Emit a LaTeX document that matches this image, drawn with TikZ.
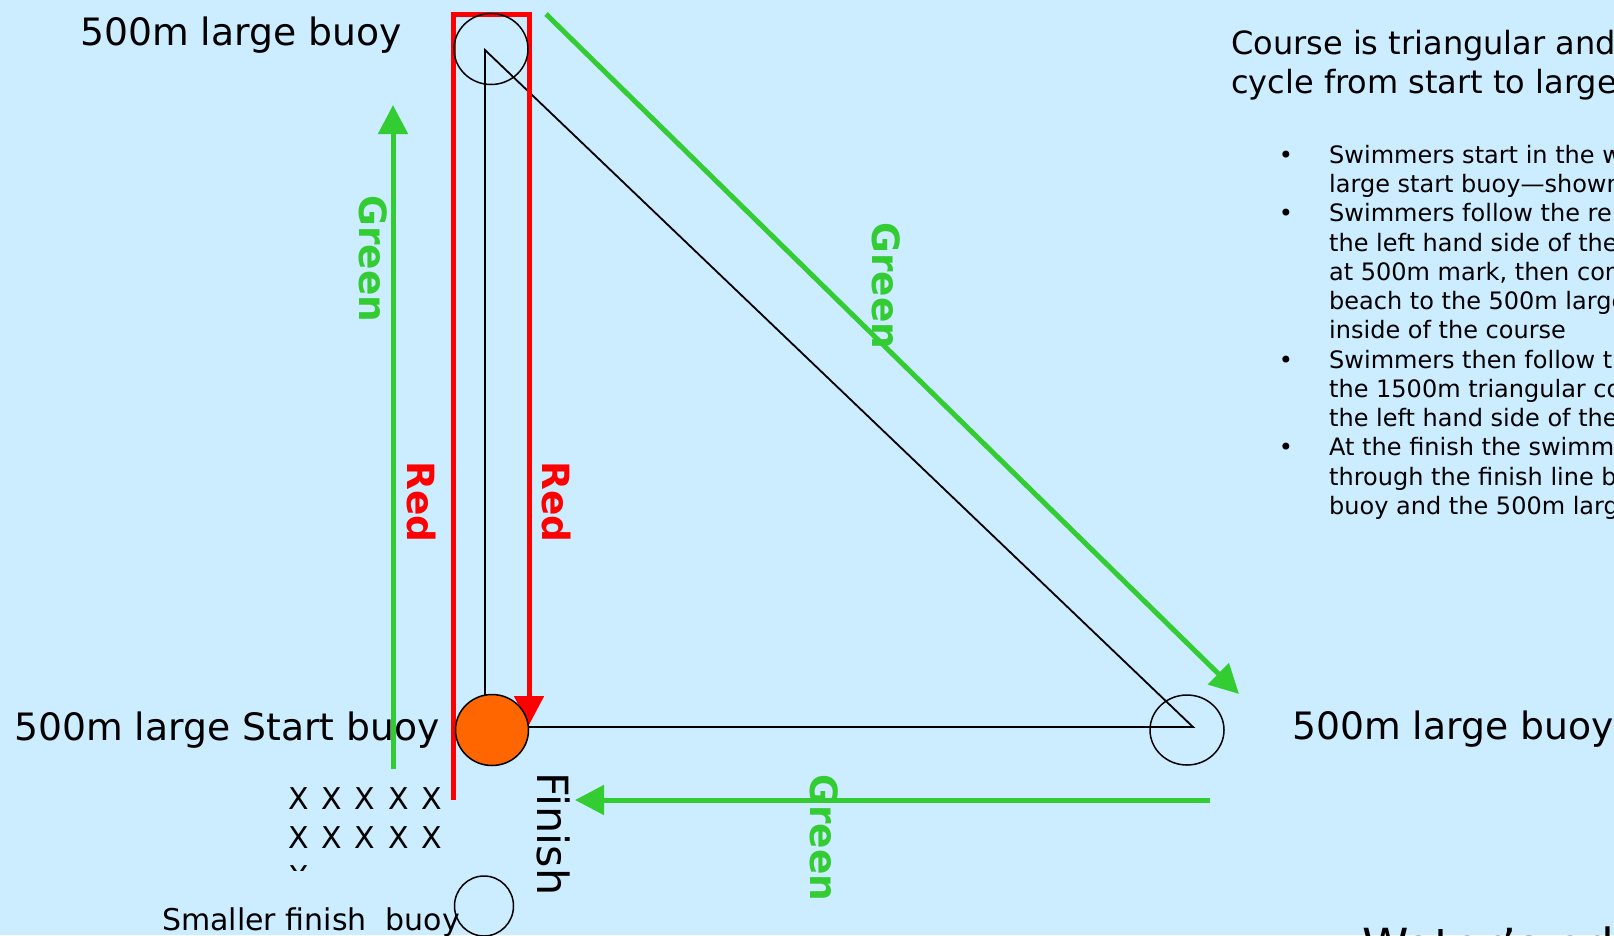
\documentclass[tikz,border=0pt]{standalone}
\usepackage{fontspec}
\setmainfont{DejaVu Sans}
\usetikzlibrary{arrows.meta,shapes.geometric}
\definecolor{bg}{RGB}{204,236,255}
\definecolor{grn}{RGB}{51,204,51}
\definecolor{org}{RGB}{255,102,0}
\begin{document}
\begin{tikzpicture}[x=1pt,y=-1pt,
  lbl/.style={inner sep=0pt, anchor=base west, font=\fontsize{37.7}{44}\selectfont},
  txt/.style={inner sep=0pt, anchor=base west, font=\fontsize{32}{38}\selectfont},
  btxt/.style={inner sep=0pt, anchor=base west, font=\fontsize{24}{28}\selectfont},
  bul/.style={inner sep=0pt, anchor=base, font=\fontsize{24}{28}\selectfont},
  xs/.style={inner sep=0pt, anchor=base, font=\fontsize{30}{36}\selectfont},
  vlab/.style={inner sep=0pt, rotate=-90, font=\bfseries\fontsize{37.5}{44}\selectfont},
  buoy/.style={ellipse, draw=black, line width=1.5pt, inner sep=0pt},
  redroute/.style={draw=red, line width=5pt, line join=miter, -{Triangle[length=29pt,width=29pt]}},
  grnroute/.style={draw=grn, line width=5pt, -{Triangle[length=29pt,width=29pt]}},
  course/.style={draw=black, line width=1.8pt, line join=miter}
]
\useasboundingbox (0,0) rectangle (1614,935);
\fill[bg] (0,0) rectangle (1614,935);
\begin{scope}
\clip (0,0) rectangle (1614,935);

% coordinates
\coordinate (tA) at (485,50);
\coordinate (tB) at (1193,727);
\coordinate (tC) at (528,727);
\coordinate (tD) at (485,700);
\coordinate (rS) at (453,800);
\coordinate (rTL) at (453,14);
\coordinate (rTR) at (529,14);
\coordinate (rE) at (529,725);
\coordinate (gS1) at (393,769);
\coordinate (gE1) at (393,105);
\coordinate (gS2) at (546,14);
\coordinate (gE2) at (1239,694);
\coordinate (gS3) at (1210,800);
\coordinate (gE3) at (575,800);

% labels
\node[lbl] (lTop) at (80,45) {500m large buoy};
\node[lbl] (lStart) at (14,740) {500m large Start buoy};
\node[lbl] (lRight) at (1292,739) {500m large buoy};
\node[inner sep=0pt, anchor=base west, font=\fontsize{30}{36}\selectfont] (lSmall) at (162,930) {Smaller finish\ \ buoy};

% course triangle
\draw[course] (tD) -- (tA) -- (tB) -- (tC);

% red route
\draw[redroute] (rS) -- (rTL) -- (rTR) -- (rE);

% green routes
\draw[grnroute] (gS1) -- (gE1);
\draw[grnroute] (gS2) -- (gE2);
\draw[grnroute] (gS3) -- (gE3);

% buoys
\node[buoy, minimum width=74pt, minimum height=71pt] (topbuoy) at (491,49) {};
\node[buoy, fill=org, minimum width=73pt, minimum height=71pt] (startbuoy) at (492,730) {};
\node[buoy, minimum width=74pt, minimum height=70pt] (rightbuoy) at (1187,730) {};
\node[buoy, minimum width=59pt, minimum height=60pt] (finishbuoy) at (484,906) {};

% route labels
\node[vlab, text=grn] (gl1) at (373,259) {Green};
\node[vlab, text=red] (rl1) at (421,502) {Red};
\node[vlab, text=red] (rl2) at (556.5,502) {Red};
\node[vlab, text=grn] (gl2) at (886,286) {Green};
\node[vlab, text=grn] (gl3) at (824,838) {Green};
\node[inner sep=0pt, rotate=-90, font=\fontsize{43}{50}\selectfont] (fin) at (554,834) {Finish};

% swimmers
\foreach \i in {0,...,4} {
  \node[xs] (xa\i) at (298.7+33.2*\i,809) {X};
  \node[xs] (xb\i) at (298.7+33.2*\i,848) {X};
}
\begin{scope}
\clip (250,850) rectangle (460,870.5);
\node[xs] (xc0) at (298.7,887) {X};
\end{scope}

% description
\node[txt] (c1) at (1231,54.5) {Course is triangular and};
\node[txt] (c2) at (1231,93) {cycle from start to large};
\node[bul] (b1) at (1286,163.5) {•};
\node[bul] (b2) at (1286,221.98) {•};
\node[bul] (b3) at (1286,368.18) {•};
\node[bul] (b4) at (1286,455.9) {•};
\node[btxt] (d1) at (1329,163.5) {Swimmers start in the w};
\node[btxt] (d2) at (1329,192.74) {large start buoy—shown};
\node[btxt] (d3) at (1329,221.98) {Swimmers follow the re};
\node[btxt] (d4) at (1329,251.22) {the left hand side of the};
\node[btxt] (d5) at (1329,280.46) {at 500m mark, then con};
\node[btxt] (d6) at (1329,309.7) {beach to the 500m large};
\node[btxt] (d7) at (1329,338.94) {inside of the course};
\node[btxt] (d8) at (1329,368.18) {Swimmers then follow th};
\node[btxt] (d9) at (1329,397.42) {the 1500m triangular co};
\node[btxt] (d10) at (1329,426.66) {the left hand side of the};
\node[btxt] (d11) at (1329,455.9) {At the finish the swimm};
\node[btxt] (d12) at (1329,485.14) {through the finish line b};
\node[btxt] (d13) at (1329,514.38) {buoy and the 500m large};

% cut-off bottom text
\node[inner sep=0pt, anchor=base west, font=\fontsize{47}{56}\selectfont] (water) at (1362,962) {Water's edge};
\end{scope}
\end{tikzpicture}
\end{document}
